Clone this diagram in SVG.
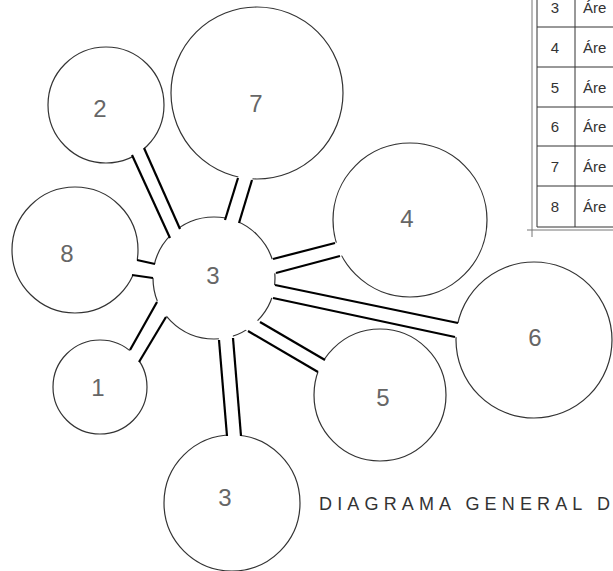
<svg xmlns="http://www.w3.org/2000/svg" width="613" height="571" viewBox="0 0 613 571">
<style>
  .room { fill: #fff; stroke: #333; stroke-width: 1.2; }
  .lbl { font-family: "Liberation Sans", Arial, sans-serif; font-size: 24px; fill: #666; text-anchor: middle; }
  .gap { fill: #fff; stroke: none; }
  .wall { stroke: #000; stroke-width: 2.2; stroke-linecap: butt; fill: none; }
  .tline { stroke: #333; stroke-width: 1; fill: none; }
  .tline2 { stroke: #777; stroke-width: 1; fill: none; }
  .ttxt { font-family: "Liberation Sans", Arial, sans-serif; font-size: 15px; fill: #333; }
  .title { font-family: "Liberation Sans", Arial, sans-serif; font-size: 18px; fill: #333; }
</style>
<rect width="613" height="571" fill="#fff"/>

<g id="node-2"><circle class="room" cx="106" cy="105" r="58"/><text class="lbl" x="100" y="117">2</text></g>
<g id="node-7"><circle class="room" cx="257" cy="93" r="86"/><text class="lbl" x="256" y="112">7</text></g>
<g id="node-4"><circle class="room" cx="410" cy="220" r="77"/><text class="lbl" x="407" y="227">4</text></g>
<g id="node-6"><circle class="room" cx="534" cy="340" r="78"/><text class="lbl" x="535" y="346">6</text></g>
<g id="node-5"><circle class="room" cx="380" cy="395" r="66"/><text class="lbl" x="383" y="406">5</text></g>
<g id="node-3b"><circle class="room" cx="232" cy="503" r="68"/><text class="lbl" x="225" y="506">3</text></g>
<g id="node-8"><circle class="room" cx="75" cy="250" r="63"/><text class="lbl" x="67" y="262">8</text></g>
<g id="node-1"><circle class="room" cx="100" cy="387" r="47"/><text class="lbl" x="98" y="396">1</text></g>
<g id="node-3"><circle class="room" cx="214" cy="278" r="61"/><text class="lbl" x="213" y="284">3</text></g>

<g id="connectors">
  <polygon class="gap" points="171.7,241.6 130.3,151.4 142.4,144.3 181.6,232.7"/>
  <polygon class="gap" points="223.8,223.8 239.2,174.2 253.2,176.2 237.8,226.8"/>
  <polygon class="gap" points="269.1,260 338.9,242 343.9,255 272.1,274"/>
  <polygon class="gap" points="271.1,284.2 461.9,323.8 458.9,337.8 269.1,297.2"/>
  <polygon class="gap" points="256.5,320 328.5,362 321.5,374 244.5,329"/>
  <polygon class="gap" points="218.7,336 227.3,440 241.3,440 232.7,334"/>
  <polygon class="gap" points="158.9,264.9 133.1,259.1 128,274.4 157,278.6"/>
  <polygon class="gap" points="159,298.5 128,353.5 136.9,365.4 168.1,313.6"/>

  <line class="wall" x1="170" y1="238" x2="132" y2="155"/>
  <line class="wall" x1="180" y1="229" x2="144" y2="148"/>
  <line class="wall" x1="225" y1="220" x2="238" y2="178"/>
  <line class="wall" x1="239" y1="223" x2="252" y2="180"/>
  <line class="wall" x1="273" y1="259" x2="335" y2="243"/>
  <line class="wall" x1="276" y1="273" x2="340" y2="256"/>
  <line class="wall" x1="275" y1="285" x2="458" y2="323"/>
  <line class="wall" x1="273" y1="298" x2="455" y2="337"/>
  <line class="wall" x1="260" y1="322" x2="325" y2="360"/>
  <line class="wall" x1="248" y1="331" x2="318" y2="372"/>
  <line class="wall" x1="219" y1="340" x2="227" y2="436"/>
  <line class="wall" x1="233" y1="338" x2="241" y2="436"/>
  <line class="wall" x1="155" y1="264" x2="137" y2="260"/>
  <line class="wall" x1="153" y1="278" x2="132" y2="275"/>
  <line class="wall" x1="157" y1="302" x2="130" y2="350"/>
  <line class="wall" x1="166" y1="317" x2="139" y2="362"/>
</g>

<g id="legend-table">
  <line class="tline2" x1="532" y1="0" x2="532" y2="237"/>
  <line class="tline2" x1="527" y1="230" x2="613" y2="230"/>
  <line class="tline" x1="537" y1="0" x2="537" y2="227"/>
  <line class="tline" x1="575" y1="0" x2="575" y2="227"/>
  <line class="tline" x1="537" y1="27" x2="613" y2="27"/>
  <line class="tline" x1="537" y1="67" x2="613" y2="67"/>
  <line class="tline" x1="537" y1="107" x2="613" y2="107"/>
  <line class="tline" x1="537" y1="146" x2="613" y2="146"/>
  <line class="tline" x1="537" y1="186" x2="613" y2="186"/>
  <line class="tline" x1="537" y1="227" x2="613" y2="227"/>
  <text class="ttxt" x="555" y="13" text-anchor="middle">3</text>
  <text class="ttxt" x="583" y="13">Áre</text>
  <text class="ttxt" x="555" y="53" text-anchor="middle">4</text>
  <text class="ttxt" x="583" y="53">Áre</text>
  <text class="ttxt" x="555" y="93" text-anchor="middle">5</text>
  <text class="ttxt" x="583" y="93">Áre</text>
  <text class="ttxt" x="555" y="132" text-anchor="middle">6</text>
  <text class="ttxt" x="583" y="132">Áre</text>
  <text class="ttxt" x="555" y="172" text-anchor="middle">7</text>
  <text class="ttxt" x="583" y="172">Áre</text>
  <text class="ttxt" x="555" y="212" text-anchor="middle">8</text>
  <text class="ttxt" x="583" y="212">Áre</text>
</g>

<text id="title" class="title" x="319" y="510" textLength="291" lengthAdjust="spacing">DIAGRAMA GENERAL D</text>
</svg>
